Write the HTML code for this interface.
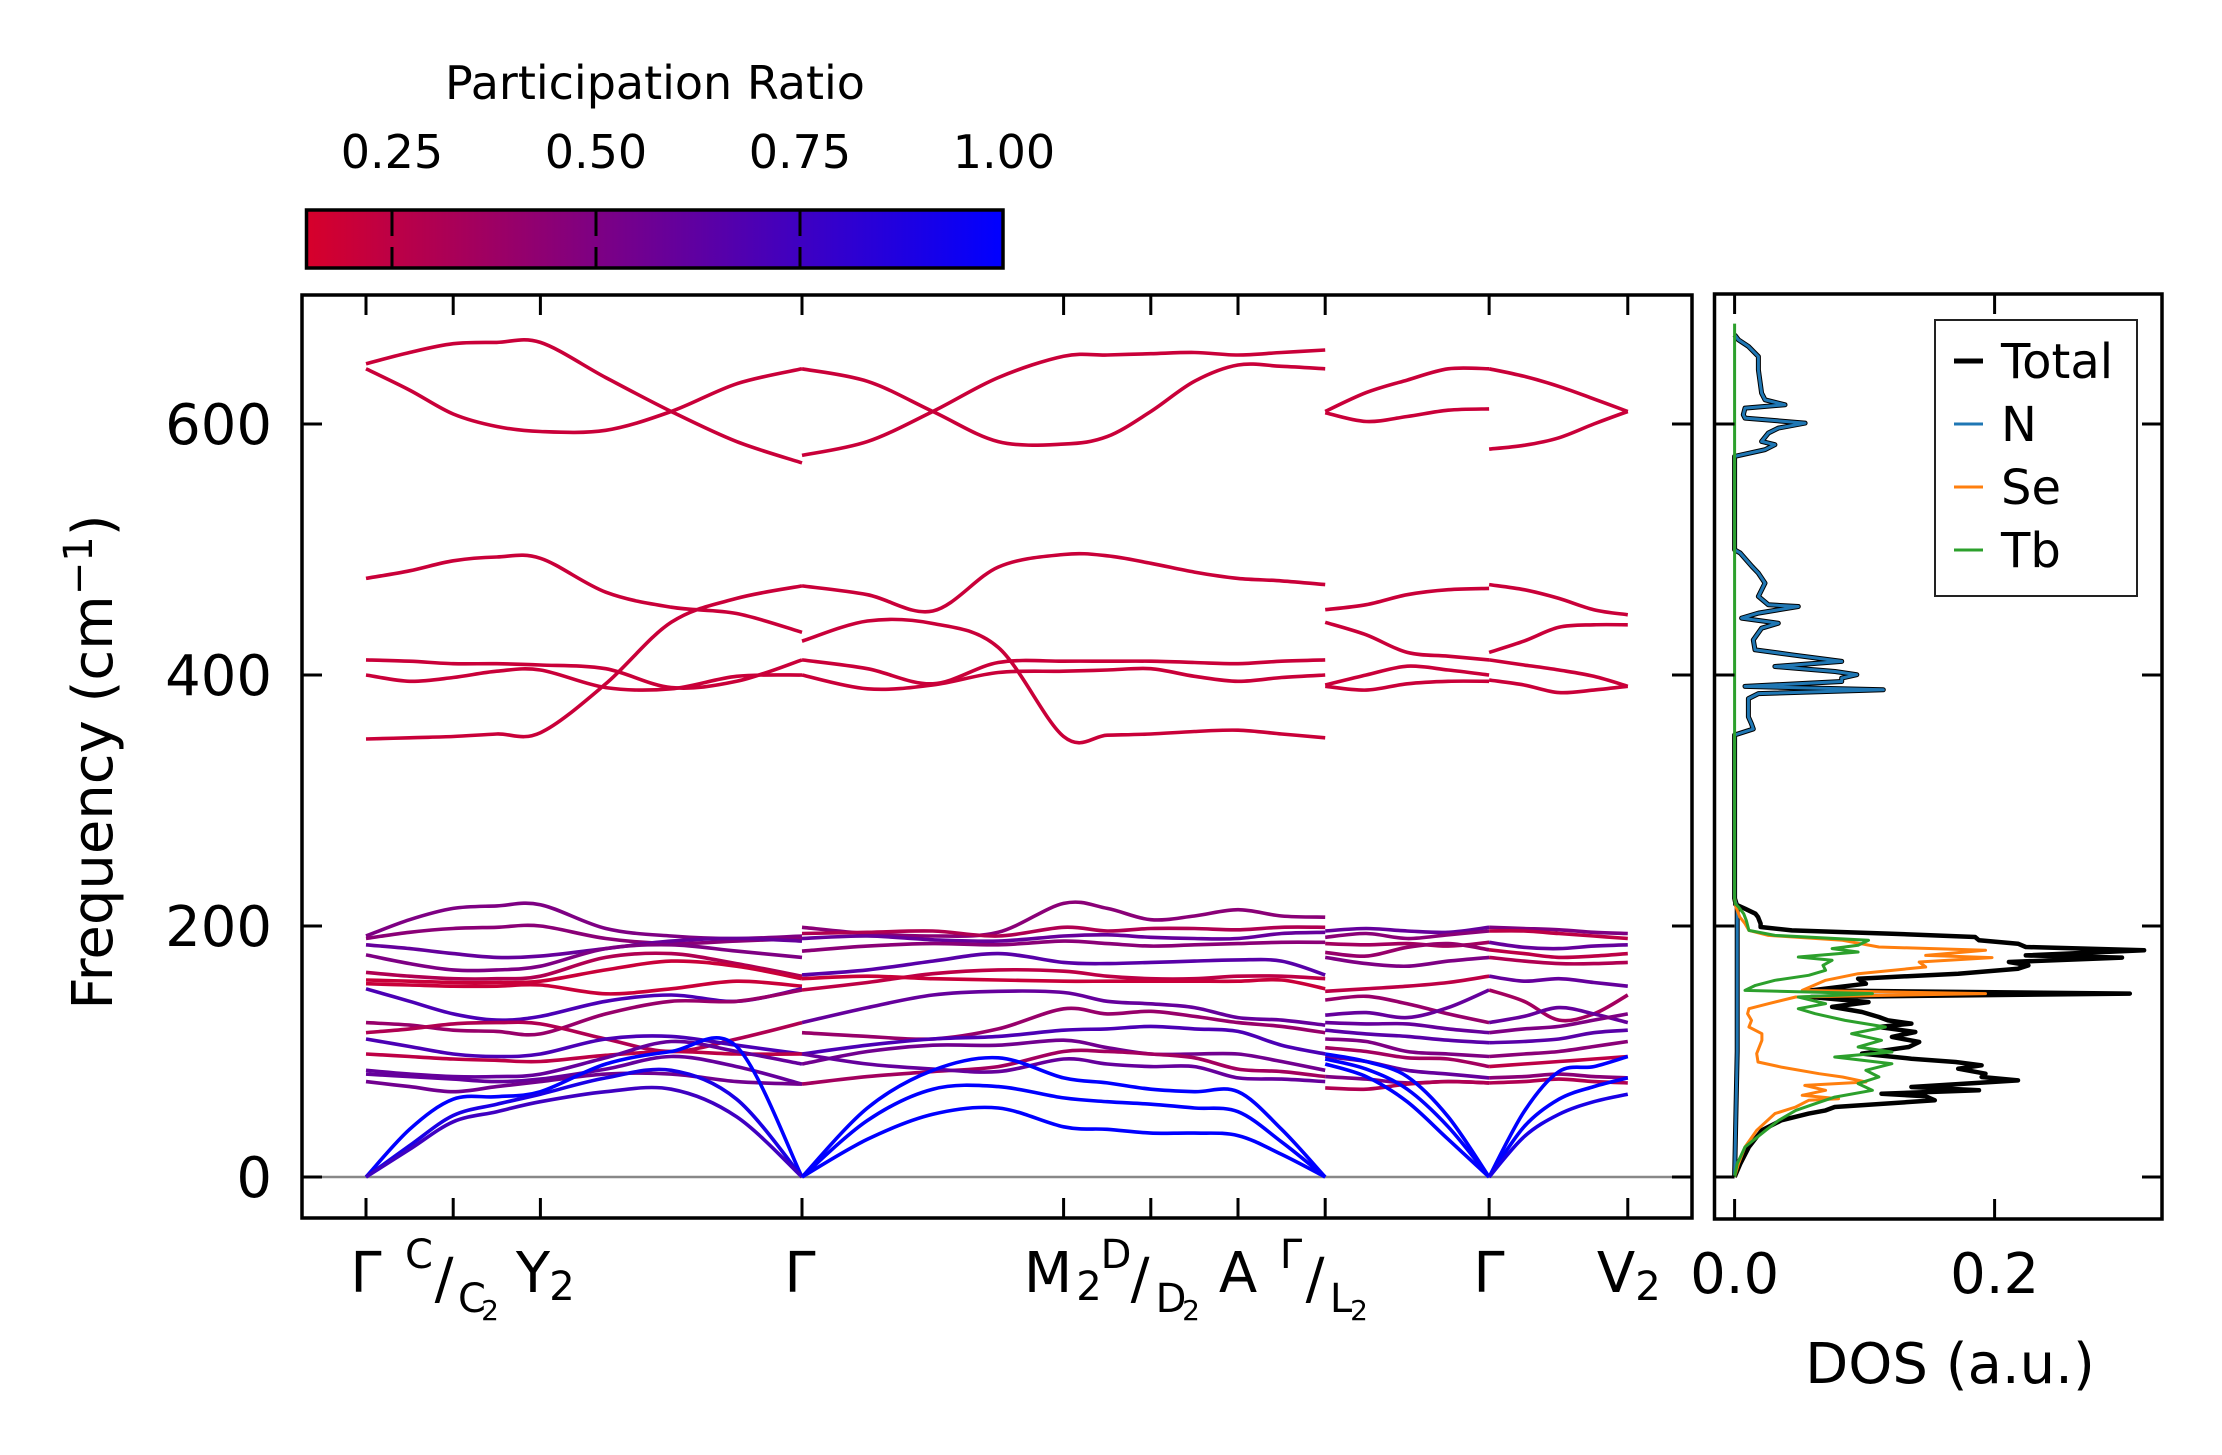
<!DOCTYPE html>
<html><head><meta charset="utf-8"><style>
html,body{margin:0;padding:0;background:#fff;}
svg{display:block;font-family:"DejaVu Sans","Liberation Sans",sans-serif;}
</style></head><body>
<svg id="chart" width="2222" height="1455" viewBox="0 0 2222 1455" xmlns="http://www.w3.org/2000/svg">
<defs>
<linearGradient id="cbgrad" x1="0" x2="1" y1="0" y2="0">
<stop offset="0" stop-color="#d7002b"/><stop offset="1" stop-color="#0000ff"/>
</linearGradient>
<clipPath id="mainclip"><rect x="302" y="295" width="1390" height="923"/></clipPath>
<clipPath id="dosclip"><rect x="1714" y="294" width="448" height="925"/></clipPath>
</defs>
<g id="colorbar">
<text x="655" y="99" font-size="46" text-anchor="middle">Participation Ratio</text>
<rect x="306.5" y="210" width="696.5" height="58" fill="url(#cbgrad)" stroke="#000" stroke-width="3.5"/>
</g>
<g id="bands" clip-path="url(#mainclip)"></g>
<g id="dos" clip-path="url(#dosclip)"></g>
<g id="axes"></g>
</svg>
<script>
// ---------- colorbar data ----------
const cbTicks = [0.25, 0.5, 0.75, 1.0];
const cbTickLabels = ["0.25", "0.50", "0.75", "1.00"];
const prMin = 0.145, prMax = 1.0;
// ---------- band structure data ----------
const kS1 = [0, 0.5, 1, 1.5, 2, 2.75, 3.5, 4.25, 5];
const kS2 = [5, 5.75, 6.5, 7.25, 8, 8.5, 9, 9.5, 10, 10.5, 11];
const kS3a = [11, 11.47, 11.94, 12.41, 12.88];
const kS3b = [12.88, 13.28, 13.68, 14.08, 14.47];
const xTickK = [0, 1, 2, 5, 8, 9, 10, 11, 12.88, 14.47];
const yTicks = [0, 200, 400, 600];
const yTickLabels = ["0", "200", "400", "600"];
const bandsS1 = [
 [648,657,664,665,665,637,610,586,569],
 [644,627,608,598,594,595,610,632,644],
 [477,483,491,494,493,466,454,449,434],
 [349,350,351,353,354,393,442,461,471],
 [412,411,409,409,408,405,390,395,412],
 [400,395,398,403,404,390,389,399,400],
 [192,205,214,216,217,198,192,190,192],
 [190,195,198,199,200,190,186,188,190],
 [185,182,178,175,176,182,188,190,188],
 [177,170,165,165,168,182,185,180,175],
 [163,160,158,158,160,175,178,170,160],
 [157,156,155,155,156,165,172,168,158],
 [154,153,152,152,153,146,150,156,152],
 [150,140,130,125,128,140,145,140,150],
 [123,121,117,116,114,130,140,140,149],
 [115,118,122,123,122,110,100,110,123],
 [110,104,98,96,98,110,112,105,98],
 [98,96,94,93,92,97,100,98,98],
 [85,82,80,80,82,95,108,100,90],
 [82,80,78,76,78,86,96,88,74],
 [76,72,68,72,76,82,82,76,74],
 [0,38,62,64,68,90,100,104,0],
 [0,25,49,58,66,79,85,62,0],
 [0,22,44,52,60,68,70,48,0]
];
const prS1 = [0.2,0.2,0.2,0.2,0.2,0.2,0.5,0.45,0.6,0.5,0.3,0.2,0.2,0.7,0.4,0.3,0.7,0.25,0.6,0.6,0.55,1.0,0.9,0.75];
const bandsS2 = [
 [575,586,610,637,654,655,656,657,655,657,659],
 [644,634,610,586,584,590,610,634,647,646,644],
 [427,443,441,422,351,352,353,355,356,353,350],
 [471,464,451,486,496,495,489,482,477,475,472],
 [412,405,393,410,411,411,411,410,409,411,412],
 [400,389,392,402,403,404,405,399,395,398,400],
 [199,194,192,195,218,214,205,208,213,208,207],
 [194,195,196,192,199,196,198,198,197,199,199],
 [190,192,189,188,192,193,191,190,190,194,195],
 [180,184,186,185,188,186,184,185,186,187,187],
 [161,165,172,178,171,170,171,172,173,172,161],
 [149,155,162,165,164,160,158,158,160,160,158],
 [158,160,158,157,156,156,156,156,156,157,150],
 [123,135,145,148,147,140,138,135,127,125,121],
 [115,112,110,118,134,130,132,128,123,120,115],
 [98,105,110,112,117,118,120,118,116,105,98],
 [90,100,105,105,109,103,98,98,98,92,85],
 [74,80,84,88,100,100,98,95,86,84,80],
 [98,90,86,84,94,90,88,88,79,78,76],
 [0,55,85,95,79,75,70,68,68,38,0],
 [0,45,70,72,63,60,58,55,52,28,0],
 [0,30,50,55,40,38,35,35,33,18,0]
];
const prS2 = [0.2,0.2,0.2,0.2,0.2,0.2,0.45,0.3,0.6,0.45,0.65,0.25,0.2,0.6,0.4,0.7,0.55,0.35,0.6,1.0,1.0,1.0];
const bandsS3a = [
 [610,625,635,644,644],
 [609,602,606,611,612],
 [452,456,464,468,469],
 [442,432,418,415,412],
 [392,400,407,404,400],
 [391,388,393,395,395],
 [196,198,196,195,199],
 [191,194,190,193,196],
 [186,185,186,184,187],
 [179,176,183,186,181],
 [175,170,168,172,175],
 [148,150,152,155,160],
 [141,144,138,130,123],
 [129,131,127,135,149],
 [123,122,122,118,115],
 [117,114,112,109,107],
 [110,108,100,98,96],
 [103,100,95,94,88],
 [96,92,85,82,79],
 [80,78,75,76,75],
 [71,70,74,76,75],
 [98,92,80,48,0],
 [94,86,70,40,0],
 [90,80,60,30,0]
];
const prS3a = [0.2,0.2,0.2,0.2,0.2,0.2,0.6,0.45,0.35,0.4,0.5,0.25,0.4,0.6,0.6,0.65,0.5,0.35,0.6,0.5,0.3,1.0,1.0,1.0];
const bandsS3b = [
 [644,638,630,620,610],
 [580,583,589,600,610],
 [472,468,461,452,448],
 [418,427,438,440,440],
 [412,408,404,399,391],
 [396,392,386,388,391],
 [199,198,197,195,194],
 [196,196,194,192,190],
 [187,183,182,184,185],
 [181,178,175,176,178],
 [175,172,170,170,171],
 [160,156,158,155,152],
 [149,140,125,130,145],
 [123,128,135,130,123],
 [115,118,120,125,130],
 [107,108,110,115,117],
 [96,98,100,104,108],
 [88,90,92,94,96],
 [79,80,82,80,79],
 [75,76,78,76,75],
 [0,52,84,88,96],
 [0,40,62,72,79],
 [0,32,50,60,66]
];
const prS3b = [0.2,0.2,0.2,0.2,0.2,0.2,0.5,0.25,0.6,0.25,0.3,0.6,0.35,0.6,0.5,0.65,0.45,0.25,0.45,0.3,1.0,1.0,0.9];
// ---------- DOS data ----------
const dosTicks = [0.0, 0.2];
const dosTickLabels = ["0.0", "0.2"];
const totalFreq = [0,10.6,23.9,37.2,45.2,50.5,53.1,55.8,61.1,64.3,66.4,69.1,71.7,77.0,79.7,82.3,86.3,89.0,91.6,94.3,98.3,103.6,107.6,111.6,115.5,119.5,122.2,124.8,127.5,131.5,135.5,139.4,143.4,146.1,148.7,154.0,158.0,162.0,166.0,168.7,171.3,174.8,176.6,180.6,183.3,185.9,188.6,191.2,193.9,196.5,199.2,201.9,204.5,207.2,209.8,213.8,217.3,218.5,222];
const totalDos = [0,0.0044,0.011,0.021,0.036,0.057,0.070,0.077,0.154,0.147,0.113,0.188,0.136,0.218,0.190,0.193,0.172,0.190,0.170,0.136,0.098,0.134,0.142,0.121,0.139,0.111,0.136,0.118,0.111,0.098,0.075,0.103,0.059,0.304,0.059,0.101,0.095,0.172,0.218,0.226,0.211,0.298,0.224,0.315,0.224,0.218,0.188,0.185,0.121,0.044,0.020,0.020,0.019,0.018,0.016,0.008,0.0005,0.0005,0];
const seFreq = [0,10.6,23.9,37.2,50.5,55.8,61.1,62.4,65.1,69.1,73.0,75.7,79.7,82.3,87.6,91.6,98.3,108.9,114.2,119.5,124.8,130.1,134.1,138.1,143.4,146.1,148.7,156.7,162.0,167.3,171.3,174.8,176.6,180.6,183.3,188.6,192.5,196.5,201.9,207.2,215.1,222];
const seDos = [0,0.003,0.008,0.017,0.031,0.047,0.057,0.080,0.052,0.070,0.054,0.101,0.083,0.065,0.036,0.018,0.017,0.021,0.021,0.011,0.013,0.010,0.011,0.026,0.047,0.193,0.052,0.070,0.095,0.147,0.142,0.198,0.147,0.193,0.111,0.083,0.026,0.011,0.008,0.004,0.001,0];
const tbFreq = [0,10.6,23.9,37.2,45.2,53.1,58.4,63.7,69.1,74.4,79.7,85.0,90.3,95.6,99.6,103.6,108.9,114.2,119.5,124.8,130.1,134.1,138.1,143.4,146.1,148.7,152.7,156.7,160.7,164.7,168.7,172.7,175.3,179.3,182.0,184.6,188.6,192.5,196.5,204.5,209.8,215.1,217.8,222,680];
const tbDos = [0,0.002,0.008,0.024,0.034,0.047,0.062,0.077,0.106,0.095,0.111,0.101,0.121,0.077,0.121,0.095,0.113,0.090,0.116,0.085,0.062,0.049,0.070,0.049,0.106,0.008,0.016,0.031,0.057,0.070,0.068,0.075,0.049,0.095,0.075,0.095,0.103,0.031,0.011,0.009,0.007,0.003,0.0005,0,0];
const nFreq = [0,100,215,222,352.2,357,361,366.6,381.2,385.2,388.2,390.9,394.8,397.5,400.2,402.8,406.8,410.8,416.1,420.1,428.0,437.3,441.3,445.3,449.3,454.6,455.9,462.6,473.2,481.1,486.5,497.1,499.8,502.4,574.2,579.5,583.5,586.1,592.8,596.7,600.7,604.7,607.4,612.7,615.3,619.3,624.6,643.2,653.8,661.8,667.1,671.1];
const nDos = [0,0.002,0.002,0,0,0.0144,0.013,0.0106,0.0106,0.0183,0.1144,0.008,0.0824,0.0824,0.094,0.0772,0.031,0.0824,0.0439,0.0157,0.0144,0.0208,0.0336,0.0054,0.0183,0.049,0.026,0.0183,0.0234,0.0183,0.0133,0.0044,0,0,0,0.0234,0.031,0.0208,0.026,0.0336,0.0542,0.008,0.0067,0.008,0.0388,0.0234,0.0208,0.0183,0.0183,0.0106,0.0029,0];

// ---------- scales ----------
const NS = "http://www.w3.org/2000/svg";
function xK(k){ return 366 + k*87.2; }
function yF(f){ return 1177 - f*1.255; }
function xD(d){ return 1734.6 + d*1300; }
function xPR(p){ return 392 + (p-0.25)*816; }
function prColor(p){
  const s = Math.max(0, Math.min(1, (p-prMin)/(prMax-prMin)));
  const r = Math.round(215*(1-s)), g = 0, b = Math.round(43*(1-s)+255*s);
  return `rgb(${r},${g},${b})`;
}
function mk(tag, attrs, parent){
  const el = document.createElementNS(NS, tag);
  for (const a in attrs) el.setAttribute(a, attrs[a]);
  parent.appendChild(el);
  return el;
}
function smoothPath(pts){
  let d = `M${pts[0][0].toFixed(1)},${pts[0][1].toFixed(1)}`;
  for (let i=0;i<pts.length-1;i++){
    const p0 = pts[Math.max(0,i-1)], p1 = pts[i], p2 = pts[i+1], p3 = pts[Math.min(pts.length-1,i+2)];
    const c1x = p1[0]+(p2[0]-p0[0])/6, c1y = p1[1]+(p2[1]-p0[1])/6;
    const c2x = p2[0]-(p3[0]-p1[0])/6, c2y = p2[1]-(p3[1]-p1[1])/6;
    d += ` C${c1x.toFixed(1)},${Math.min(c1y,1177).toFixed(1)} ${c2x.toFixed(1)},${Math.min(c2y,1177).toFixed(1)} ${p2[0].toFixed(1)},${p2[1].toFixed(1)}`;
  }
  return d;
}
const svg = document.getElementById('chart');
const gB = document.getElementById('bands');
const gD = document.getElementById('dos');
const gA = document.getElementById('axes');
const gC = document.getElementById('colorbar');

// zero line
const zl = mk('line', {x1:302, x2:1692, y1:yF(0), y2:yF(0), stroke:'#888', 'stroke-width':2.5}, gB);



// bands
function drawSeg(ks, bands, prs, segName){
  bands.forEach((vals, i) => {
    const pts = vals.map((f, j) => [xK(ks[j]), yF(f)]);
    const p = mk('path', {d: smoothPath(pts), fill:'none', stroke: prColor(prs[i]), 'stroke-width':3.6, 'stroke-linecap':'butt'}, gB);
    
    
  });
}
drawSeg(kS1, bandsS1, prS1, 's1');
drawSeg(kS2, bandsS2, prS2, 's2');
drawSeg(kS3a, bandsS3a, prS3a, 's3a');
drawSeg(kS3b, bandsS3b, prS3b, 's3b');

// DOS curves
function drawDos(freqs, vals, color, w, name){
  const d = freqs.map((f,i) => (i? 'L':'M') + xD(vals[i]).toFixed(1) + ',' + yF(f).toFixed(1)).join(' ');
  const p = mk('path', {d, fill:'none', stroke:color, 'stroke-width':w, 'stroke-linejoin':'round'}, gD);
  
  
}
drawDos(totalFreq, totalDos, '#000', 4.5, 'dos-total');
drawDos(nFreq, nDos.map(v=>v), '#000', 5, 'dos-total-high');
drawDos(nFreq, nDos, '#1f77b4', 3, 'dos-n');
drawDos(seFreq, seDos, '#ff7f0e', 3, 'dos-se');
drawDos(tbFreq, tbDos, '#2ca02c', 3, 'dos-tb');

// frames
const f1 = mk('rect', {x:302, y:295, width:1390, height:923, fill:'none', stroke:'#000', 'stroke-width':3.5}, gA);


const f2 = mk('rect', {x:1714.5, y:294, width:447.5, height:925, fill:'none', stroke:'#000', 'stroke-width':3.5}, gA);



// main ticks
xTickK.forEach((k,i) => {
  const x = xK(k);
  const t1 = mk('line', {x1:x, x2:x, y1:1218, y2:1198, stroke:'#000', 'stroke-width':3}, gA);
  
  
  const t2 = mk('line', {x1:x, x2:x, y1:295, y2:315, stroke:'#000', 'stroke-width':3}, gA);
  
  
});
yTicks.forEach((v,i) => {
  const y = yF(v);
  const t1 = mk('line', {x1:302, x2:322, y1:y, y2:y, stroke:'#000', 'stroke-width':3}, gA);
  
  
  const t2 = mk('line', {x1:1672, x2:1692, y1:y, y2:y, stroke:'#000', 'stroke-width':3}, gA);
  
  
  const t3 = mk('line', {x1:1714.5, x2:1734.5, y1:y, y2:y, stroke:'#000', 'stroke-width':3}, gA);
  
  
  const t4 = mk('line', {x1:2142, x2:2162, y1:y, y2:y, stroke:'#000', 'stroke-width':3}, gA);
  
  
  const tl = mk('text', {x:272, y:y+20, 'font-size':56, 'text-anchor':'end'}, gA);
  tl.textContent = yTickLabels[i];
  
  
});
dosTicks.forEach((v,i) => {
  const x = xD(v);
  const t1 = mk('line', {x1:x, x2:x, y1:1219, y2:1199, stroke:'#000', 'stroke-width':3}, gA);
  
  
  const t2 = mk('line', {x1:x, x2:x, y1:294, y2:314, stroke:'#000', 'stroke-width':3}, gA);
  
  
  const tl = mk('text', {x:x, y:1293, 'font-size':56, 'text-anchor':'middle'}, gA);
  tl.textContent = dosTickLabels[i];
  
  
});

// colorbar ticks
cbTicks.forEach((v,i) => {
  const x = xPR(v);
  if (v < 1.0){
    const a = mk('line', {x1:x, x2:x, y1:211, y2:236, stroke:'#000', 'stroke-width':3}, gC);
    
    
    const b = mk('line', {x1:x, x2:x, y1:247, y2:267, stroke:'#000', 'stroke-width':3}, gC);
    
    
  }
  const t = mk('text', {x: x, y:168, 'font-size':46, 'text-anchor':'middle'}, gC);
  t.textContent = cbTickLabels[i];
  
  
});
</script>
<script>
// static text labels & legend
(function(){
const NS = "http://www.w3.org/2000/svg";
const svg = document.getElementById('chart');
function T(x,y,size,txt,name,anchor){
  const t = document.createElementNS(NS,'text');
  t.setAttribute('x',x); t.setAttribute('y',y); t.setAttribute('font-size',size);
  t.setAttribute('text-anchor',anchor||'middle');
  t.textContent = txt;
  
  
  svg.appendChild(t);
  return t;
}
T(366,1292,56,'Γ','x-label-gamma');
T(419,1268,40,'C','x-label-c');
T(444,1298,56,'/','x-label-c-slash');
T(472,1312,40,'C','x-label-c2');
T(490,1320,28,'2','x-label-c2-sub');
T(533,1292,56,'Y','x-label-y2');
T(562,1300,40,'2','x-label-y2-sub');
T(800,1292,56,'Γ','x-label-gamma2');
T(1048,1292,56,'M','x-label-m2');
T(1089,1300,40,'2','x-label-m2-sub');
T(1116,1268,40,'D','x-label-d');
T(1140,1298,56,'/','x-label-d-slash');
T(1171,1312,40,'D','x-label-d2');
T(1191,1320,28,'2','x-label-d2-sub');
T(1238,1292,56,'A','x-label-a');
T(1291,1268,40,'Γ','x-label-gamma-sup');
T(1315,1298,56,'/','x-label-l-slash');
T(1341,1312,40,'L','x-label-l2');
T(1359,1320,28,'2','x-label-l2-sub');
T(1489,1292,56,'Γ','x-label-gamma3');
T(1616,1292,56,'V','x-label-v2');
T(1648,1300,40,'2','x-label-v2-sub');
T(1950,1383,56,'DOS (a.u.)','dos-x-axis-title');
const yl = T(0,0,56,'','y-axis-title');
yl.setAttribute('transform','translate(112,762) rotate(-90)');
yl.innerHTML = 'Frequency (cm<tspan dy="-20" font-size="40">−1</tspan><tspan dy="20">)</tspan>';

// legend
const lg = document.createElementNS(NS,'g');


svg.appendChild(lg);
const box = document.createElementNS(NS,'rect');
box.setAttribute('x',1935); box.setAttribute('y',320); box.setAttribute('width',202); box.setAttribute('height',276);
box.setAttribute('fill','#fff'); box.setAttribute('stroke','#222'); box.setAttribute('stroke-width',2);


lg.appendChild(box);
const names = ['Total','N','Se','Tb'];
const cols = ['#000','#1f77b4','#ff7f0e','#2ca02c'];
const rows = [361,424,487,550];
names.forEach((n,i)=>{
  const l = document.createElementNS(NS,'line');
  l.setAttribute('x1',1954); l.setAttribute('x2',1983); l.setAttribute('y1',rows[i]); l.setAttribute('y2',rows[i]);
  l.setAttribute('stroke',cols[i]); l.setAttribute('stroke-width', i===0?5:3);
  
  
  lg.appendChild(l);
  const t = document.createElementNS(NS,'text');
  t.setAttribute('x',2001); t.setAttribute('y',rows[i]+17); t.setAttribute('font-size',48);
  t.textContent = n;
  
  
  lg.appendChild(t);
});
})();
</script>
</body></html>
